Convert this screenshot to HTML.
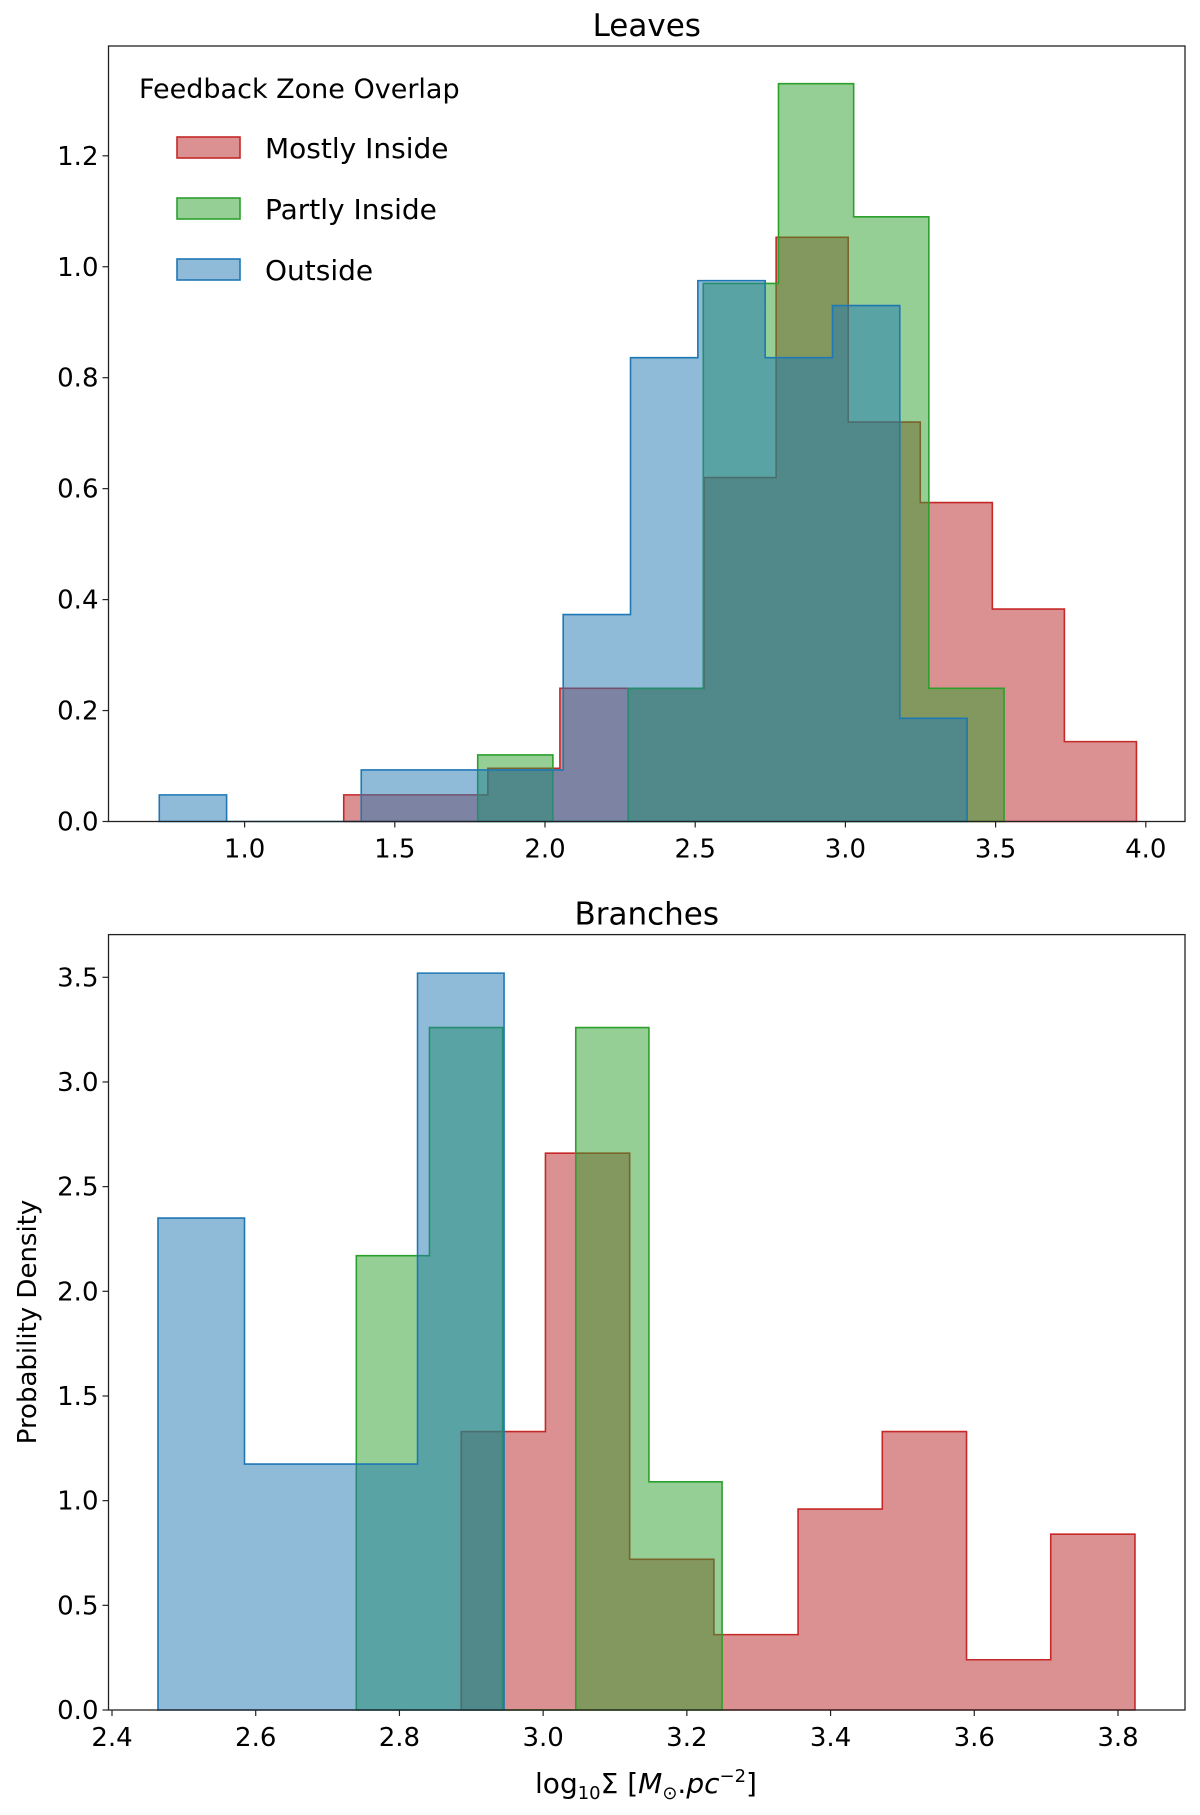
<!DOCTYPE html>
<html><head><meta charset="utf-8"><style>
html,body{margin:0;padding:0;background:#fff}
svg{display:block;font-family:"DejaVu Sans","Liberation Sans",sans-serif}
</style></head><body>
<svg id="chart" width="1200" height="1815" viewBox="0 0 1200 1815" xmlns="http://www.w3.org/2000/svg"></svg>
<script>
// Leaves panel data
const leavesRedStart = 1.330, leavesRedStep = 0.2399;
const leavesRed = [0.048,0.048,0.096,0.24,0.24,0.62,1.053,0.72,0.575,0.383,0.144];
const leavesGreenStart = 1.776, leavesGreenStep = 0.2503;
const leavesGreen = [0.12,0,0.24,0.97,1.33,1.09,0.24];
const leavesBlueStart = 0.716, leavesBlueStep = 0.2241;
const leavesBlue = [0.048,0,0,0.093,0.093,0.093,0.373,0.836,0.975,0.836,0.93,0.186];
const leavesXTicks = [1.0,1.5,2.0,2.5,3.0,3.5,4.0];
const leavesYTicks = [0.0,0.2,0.4,0.6,0.8,1.0,1.2];
// Branches panel data
const branchRedStart = 2.886, branchRedStep = 0.1172;
const branchRed = [1.33,2.66,0.72,0.36,0.96,1.33,0.24,0.84];
const branchGreenStart = 2.740, branchGreenStep = 0.1018;
const branchGreen = [2.17,3.26,0,3.26,1.09];
const branchBlueStart = 2.464, branchBlueStep = 0.1204;
const branchBlue = [2.35,1.175,1.175,3.52];
const branchXTicks = [2.4,2.6,2.8,3.0,3.2,3.4,3.6,3.8];
const branchYTicks = [0.0,0.5,1.0,1.5,2.0,2.5,3.0,3.5];
const legendLabels = ["Mostly Inside","Partly Inside","Outside"];

const NS="http://www.w3.org/2000/svg";
const svg=document.getElementById('chart');
function mk(tag,attrs,parent){const e=document.createElementNS(NS,tag);for(const k in attrs)e.setAttribute(k,attrs[k]);(parent||svg).appendChild(e);return e;}
const colors=[{f:"#b82326",s:"#c62828"},{f:"#2ca02c",s:"#2ca02c"},{f:"#1f77b4",s:"#1f77b4"}];

function panel(cfg){
  const g=mk('g',{});
  
  
  const X=v=>cfg.px0+(v-cfg.x0)*(cfg.px1-cfg.px0)/(cfg.x1-cfg.x0);
  const Y=v=>cfg.py0+(v-cfg.y0)*(cfg.py1-cfg.py0)/(cfg.y1-cfg.y0);
  cfg.series.forEach((s,si)=>{
    let d="M"+X(s.start)+","+Y(0);
    s.vals.forEach((v,i)=>{const a=X(s.start+i*s.step),b=X(s.start+(i+1)*s.step);d+=" L"+a+","+Y(v)+" L"+b+","+Y(v);});
    d+=" L"+X(s.start+s.vals.length*s.step)+","+Y(0)+" Z";
    const p=mk('path',{d:d,fill:colors[si].f,'fill-opacity':0.5,stroke:colors[si].s,'stroke-width':1.6},g);
    
    
  });
  const fr=mk('rect',{x:cfg.L,y:cfg.T,width:cfg.R-cfg.L,height:cfg.B-cfg.T,fill:'none',stroke:'#222','stroke-width':1.3},g);
  
  
  cfg.xt.forEach(t=>{const x=X(t);mk('line',{x1:x,x2:x,y1:cfg.B,y2:cfg.B+6,stroke:'#222','stroke-width':1.2},g);
    const tx=mk('text',{x:x,y:cfg.B+36,'text-anchor':'middle','font-size':26,fill:'#000'},g);tx.textContent=t.toFixed(1);
    
    });
  cfg.yt.forEach(t=>{const y=Y(t);mk('line',{x1:cfg.L-6,x2:cfg.L,y1:y,y2:y,stroke:'#222','stroke-width':1.2},g);
    const tx=mk('text',{x:cfg.L-10,y:y+9,'text-anchor':'end','font-size':26,fill:'#000'},g);tx.textContent=t.toFixed(1);
    
    });
  const ti=mk('text',{x:(cfg.L+cfg.R)/2,y:cfg.T-10,'text-anchor':'middle','font-size':31,fill:'#000'},g);
  ti.textContent=cfg.title;
  
  
}
panel({name:'leaves-panel',title:'Leaves',L:108.5,R:1185,T:46,B:821.5,
  x0:1.0,x1:4.0,px0:244.6,px1:1145.8,y0:0,y1:1.2,py0:821.5,py1:155.8,xt:leavesXTicks,yt:leavesYTicks,
  series:[{label:'mostly-inside',start:leavesRedStart,step:leavesRedStep,vals:leavesRed},
          {label:'partly-inside',start:leavesGreenStart,step:leavesGreenStep,vals:leavesGreen},
          {label:'outside',start:leavesBlueStart,step:leavesBlueStep,vals:leavesBlue}]});
panel({name:'branches-panel',title:'Branches',L:108.5,R:1185,T:934.6,B:1710,
  x0:2.4,x1:3.8,px0:112,px1:1118,y0:0,y1:3.5,py0:1710,py1:977.3,xt:branchXTicks,yt:branchYTicks,
  series:[{label:'mostly-inside',start:branchRedStart,step:branchRedStep,vals:branchRed},
          {label:'partly-inside',start:branchGreenStart,step:branchGreenStep,vals:branchGreen},
          {label:'outside',start:branchBlueStart,step:branchBlueStep,vals:branchBlue}]});
// legend
const lg=mk('g',{});


const lt=mk('text',{x:139,y:98,'font-size':27,fill:'#000'},lg);lt.textContent='Feedback Zone Overlap';


legendLabels.forEach((lab,i)=>{
  const y=137+i*61;
  const r=mk('rect',{x:177,y:y,width:63,height:21,fill:colors[i].f,'fill-opacity':0.5,stroke:colors[i].s,'stroke-width':1.6},lg);
  
  
  const t=mk('text',{x:265,y:y+21,'font-size':28,fill:'#000'},lg);t.textContent=lab;
  
  
});
const yl=mk('text',{x:0,y:0,'font-size':26,'text-anchor':'middle',fill:'#000',transform:'translate(36,1322) rotate(-90)'});
yl.textContent='Probability Density';


const xl=mk('text',{x:646,y:1793,'font-size':28,'text-anchor':'middle',fill:'#000'});
xl.innerHTML='log<tspan font-size="18" dy="6">10</tspan><tspan dy="-6">Σ  [</tspan><tspan font-style="italic">M</tspan><tspan font-size="18" dy="6">⊙</tspan><tspan dy="-6">.</tspan><tspan font-style="italic">pc</tspan><tspan font-size="18" dy="-11">−2</tspan><tspan dy="11">]</tspan>';


</script>
</body></html>
